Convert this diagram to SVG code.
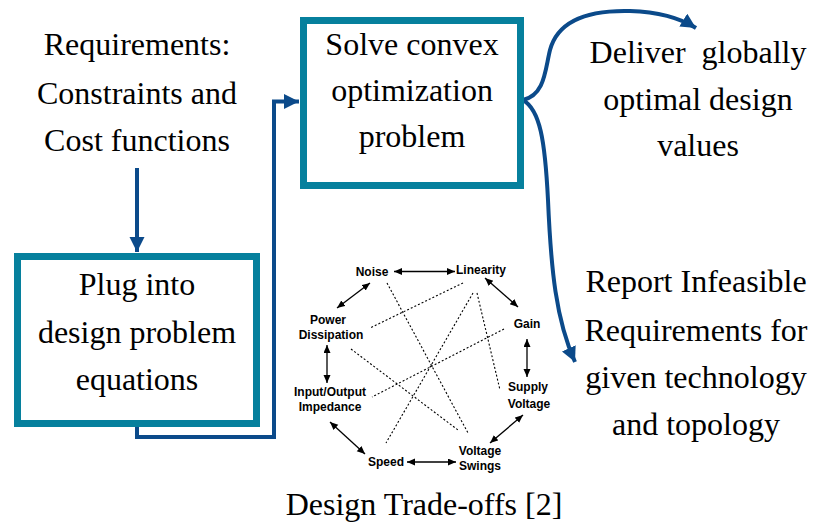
<svg xmlns="http://www.w3.org/2000/svg" width="815" height="529" viewBox="0 0 815 529">
<style>
.box{fill:#fff;stroke:#06809d;stroke-width:7}
.big{font-family:"Liberation Serif","Times New Roman",serif;font-size:32px;fill:#000;text-anchor:middle}
.sm{font-family:"Liberation Sans",Arial,sans-serif;font-size:12px;font-weight:bold;fill:#000;text-anchor:middle}
.conn{fill:none;stroke:#0b4a8a;stroke-width:4}
.dbl{fill:none;stroke:#000;stroke-width:1.3;marker-start:url(#sa);marker-end:url(#sa)}
.dot{fill:none;stroke:#000;stroke-width:1.1;stroke-dasharray:2 2}
</style>
<defs>
<marker id="ba" markerUnits="userSpaceOnUse" markerWidth="16" markerHeight="16" refX="15" refY="7.5" orient="auto">
<path d="M0,0 L15,7.5 L0,15 z" fill="#0b4a8a"/>
</marker>
<marker id="sa" markerUnits="userSpaceOnUse" markerWidth="9" markerHeight="8" refX="8" refY="3.5" orient="auto-start-reverse">
<path d="M0,0 L8,3.5 L0,7 z" fill="#000"/>
</marker>
</defs>

<g id="connectors">
<path class="conn" d="M137,168 V252" marker-end="url(#ba)"/>
<path class="conn" d="M137,427 V437 H274 V101.5 H299" marker-end="url(#ba)"/>
<path class="conn" d="M523,100 C545,95 545,70 550,50 C558,20 590,10 630,11 C660,12 680,18 696,28" marker-end="url(#ba)"/>
<path class="conn" d="M523,100 C540,110 545,140 548,200 C551,270 556,320 575,362" marker-end="url(#ba)"/>
</g>

<g id="requirements">
<text class="big" x="137" y="55">Requirements:</text>
<text class="big" x="137" y="104">Constraints and</text>
<text class="big" x="137" y="151">Cost functions</text>
</g>

<g id="solve">
<rect class="box" x="303.5" y="20.5" width="217" height="165"/>
<text class="big" x="412" y="55">Solve convex</text>
<text class="big" x="412" y="101">optimization</text>
<text class="big" x="412" y="147">problem</text>
</g>

<g id="plug">
<rect class="box" x="17.5" y="256.5" width="239" height="167"/>
<text class="big" x="137" y="295">Plug into</text>
<text class="big" x="137" y="343">design problem</text>
<text class="big" x="137" y="390">equations</text>
</g>

<g id="deliver">
<text class="big" x="698" y="63" xml:space="preserve">Deliver  globally</text>
<text class="big" x="698" y="110">optimal design</text>
<text class="big" x="698" y="156">values</text>
</g>

<g id="report">
<text class="big" x="696" y="292">Report Infeasible</text>
<text class="big" x="696" y="341">Requirements for</text>
<text class="big" x="696" y="388">given technology</text>
<text class="big" x="696" y="435">and topology</text>
</g>

<g id="tradeoffs">
<g id="tradeoff-lines">
<line class="dbl" x1="394" y1="271.5" x2="455" y2="271.5"/>
<line class="dbl" x1="370" y1="283" x2="337" y2="308"/>
<line class="dbl" x1="485" y1="278" x2="518" y2="307"/>
<line class="dbl" x1="527" y1="339" x2="527" y2="377"/>
<line class="dbl" x1="327" y1="345" x2="327" y2="383"/>
<line class="dbl" x1="330" y1="422" x2="365" y2="454"/>
<line class="dbl" x1="407" y1="462" x2="456" y2="462"/>
<line class="dbl" x1="490" y1="443" x2="523" y2="415"/>
<line class="dot" x1="387" y1="283" x2="468" y2="433"/>
<line class="dot" x1="463" y1="283" x2="370" y2="328"/>
<line class="dot" x1="473" y1="293" x2="386" y2="443"/>
<line class="dot" x1="477" y1="293" x2="500" y2="390"/>
<line class="dot" x1="504" y1="329" x2="372" y2="397"/>
<line class="dot" x1="351" y1="349" x2="458" y2="430"/>
</g>
<text class="sm" x="372" y="276">Noise</text>
<text class="sm" x="481" y="274">Linearity</text>
<text class="sm" x="328" y="324">Power</text>
<text class="sm" x="331" y="339">Dissipation</text>
<text class="sm" x="527" y="328">Gain</text>
<text class="sm" x="528" y="391">Supply</text>
<text class="sm" x="529" y="408">Voltage</text>
<text class="sm" x="330" y="396">Input/Output</text>
<text class="sm" x="330" y="411">Impedance</text>
<text class="sm" x="386" y="466">Speed</text>
<text class="sm" x="480" y="455">Voltage</text>
<text class="sm" x="480" y="470">Swings</text>
<text class="big" x="424" y="515">Design Trade-offs [2]</text>
</g>
</svg>
